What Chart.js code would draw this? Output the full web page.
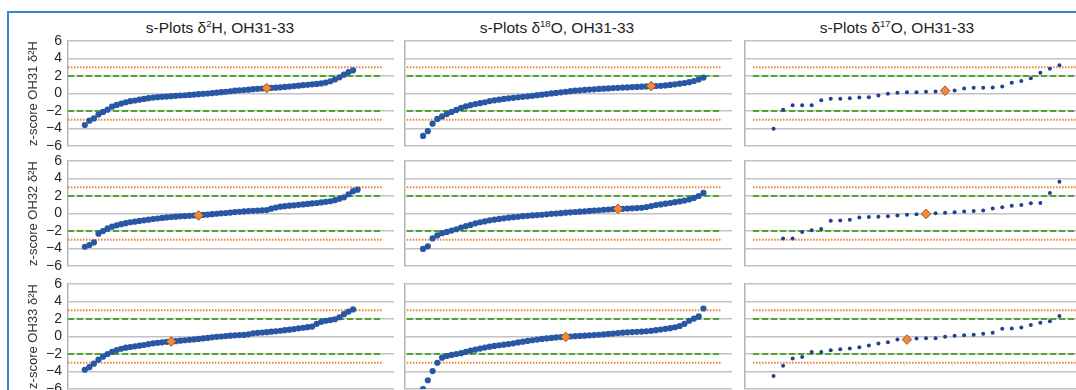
<!DOCTYPE html>
<html><head><meta charset="utf-8">
<script src="https://cdn.jsdelivr.net/npm/chart.js@4/dist/chart.umd.min.js"></script>
<style>
html,body{margin:0;padding:0;background:#fff;overflow:hidden;}
#wrap{width:1076px;height:390px;overflow:hidden;position:relative;font-family:"Liberation Sans",Arial,sans-serif;background:#fff;}
.frame{position:absolute;left:7px;top:11px;width:1100px;height:400px;border-top:2px solid #3a84d0;border-left:2px solid #3a84d0;}
.ttl{position:absolute;top:18px;font-size:15.5px;color:#222;white-space:nowrap;transform:translateX(-50%);line-height:19px;}
.ttl sup{font-size:9.5px;position:relative;top:-6px;vertical-align:baseline;line-height:0;}
canvas{position:absolute;}
</style></head><body>
<div id="wrap">
<div class="frame"></div>
<div class="ttl" style="left:220px">s-Plots δ<sup>2</sup>H, OH31-33</div>
<div class="ttl" style="left:557px">s-Plots δ<sup>18</sup>O, OH31-33</div>
<div class="ttl" style="left:897px">s-Plots δ<sup>17</sup>O, OH31-33</div>
</div>
<script>
// ---- data ----
const yTicks = [-6, -4, -2, 0, 2, 4, 6];
const warnLimits = [2, -2];
const actionLimits = [3, -3];
const rowLabels = ['z-score OH31 δ²H', 'z-score OH32 δ²H', 'z-score OH33 δ²H'];

const d2H_OH31 = [-3.6,-3.1,-2.85,-2.4,-2.1,-1.85,-1.5,-1.3,-1.15,-1.0,
  -0.88,-0.8,-0.7,-0.62,-0.53,-0.46,-0.42,-0.38,-0.35,-0.31,
  -0.27,-0.23,-0.2,-0.16,-0.12,-0.08,-0.04,0.0,0.05,0.1,
  0.15,0.2,0.26,0.32,0.36,0.4,0.44,0.49,0.53,0.57,
  0.61,0.64,0.67,0.71,0.75,0.8,0.85,0.9,0.95,1.0,
  1.05,1.09,1.15,1.25,1.4,1.6,1.85,2.15,2.45,2.65];
const d2H_OH32 = [-3.8,-3.6,-3.3,-2.3,-2.0,-1.7,-1.5,-1.35,-1.22,-1.1,
  -1.0,-0.93,-0.85,-0.78,-0.7,-0.63,-0.57,-0.5,-0.45,-0.4,
  -0.36,-0.32,-0.29,-0.26,-0.23,-0.21,-0.16,-0.12,-0.08,-0.03,
  0.02,0.06,0.11,0.16,0.2,0.24,0.28,0.31,0.34,0.36,
  0.4,0.55,0.68,0.78,0.84,0.89,0.94,0.99,1.04,1.1,
  1.15,1.2,1.27,1.33,1.4,1.52,1.68,1.85,2.2,2.55,2.72];
const d2H_OH33 = [-3.8,-3.5,-3.1,-2.65,-2.3,-2.0,-1.75,-1.55,-1.4,-1.28,
  -1.2,-1.12,-1.05,-0.97,-0.88,-0.78,-0.72,-0.66,-0.61,-0.57,
  -0.53,-0.48,-0.43,-0.38,-0.33,-0.28,-0.22,-0.16,-0.09,-0.04,
  0.0,0.05,0.1,0.13,0.16,0.18,0.25,0.36,0.42,0.46,
  0.5,0.55,0.6,0.66,0.72,0.78,0.85,0.93,1.0,1.07,
  1.13,1.45,1.68,1.8,1.88,1.97,2.2,2.55,2.85,3.1];

const d18O_OH31 = [-4.85,-4.3,-3.45,-2.9,-2.62,-2.35,-2.1,-1.88,-1.65,-1.48,
  -1.33,-1.2,-1.1,-1.0,-0.86,-0.78,-0.7,-0.62,-0.55,-0.49,
  -0.43,-0.38,-0.32,-0.26,-0.19,-0.13,-0.06,0.01,0.07,0.13,
  0.2,0.27,0.32,0.36,0.41,0.45,0.48,0.52,0.55,0.58,
  0.62,0.65,0.68,0.7,0.73,0.75,0.78,0.81,0.84,0.86,
  0.88,0.92,0.98,1.05,1.12,1.2,1.3,1.43,1.6,1.82];
const d18O_OH32 = [-4.05,-3.75,-2.85,-2.5,-2.25,-2.1,-1.95,-1.8,-1.6,-1.45,
  -1.3,-1.12,-1.0,-0.9,-0.78,-0.7,-0.62,-0.55,-0.48,-0.42,
  -0.37,-0.31,-0.27,-0.22,-0.18,-0.14,-0.09,-0.04,0.0,0.04,
  0.09,0.13,0.17,0.21,0.25,0.29,0.33,0.37,0.42,0.46,
  0.49,0.52,0.54,0.56,0.59,0.62,0.66,0.74,0.85,0.96,
  1.04,1.12,1.2,1.29,1.38,1.48,1.6,1.78,2.0,2.35];
const d18O_OH33 = [-6.0,-5.0,-3.95,-3.0,-2.42,-2.23,-2.1,-2.0,-1.9,-1.76,
  -1.62,-1.5,-1.38,-1.27,-1.16,-1.08,-1.0,-0.93,-0.86,-0.78,
  -0.68,-0.59,-0.51,-0.43,-0.35,-0.28,-0.22,-0.16,-0.11,-0.06,
  -0.04,0.0,0.04,0.07,0.1,0.13,0.16,0.2,0.24,0.29,
  0.34,0.39,0.44,0.48,0.51,0.53,0.56,0.6,0.65,0.72,
  0.8,0.88,0.95,1.06,1.2,1.45,1.8,2.05,2.3,3.2];

const d17O_OH31 = [-4.02,-1.87,-1.34,-1.34,-1.34,-0.76,-0.61,-0.61,-0.55,-0.46,
  -0.42,-0.23,-0.03,0.08,0.15,0.15,0.19,0.23,0.31,0.35,
  0.58,0.66,0.66,0.69,0.8,1.23,1.42,1.73,2.38,2.84,3.22];
const d17O_OH32 = [-2.85,-2.85,-2.1,-1.91,-1.76,-0.83,-0.8,-0.71,-0.45,-0.41,
  -0.38,-0.3,-0.23,-0.15,-0.08,-0.05,0.04,0.08,0.15,0.23,
  0.3,0.34,0.56,0.71,0.9,0.98,1.16,1.2,2.33,3.64];
const d17O_OH33 = [-4.5,-3.35,-2.5,-2.35,-1.77,-1.77,-1.58,-1.46,-1.38,-1.23,
  -1.04,-0.81,-0.65,-0.35,-0.35,-0.23,-0.19,-0.19,-0.04,0.08,
  0.15,0.19,0.31,0.42,0.88,0.92,1.04,1.31,1.58,1.73,2.35];

// first rank of each series
const d2H_firstRank = [1, 1, 1];
const d18O_firstRank = [1, 1, 1];
const d17O_firstRank = [3, 4, 3];
// own lab result (diamond): rank and z-score
const d2H_labRank = [41, 26, 20];
const d2H_labZ = [0.62, -0.22, -0.57];
const d18O_labRank = [49, 42, 31];
const d18O_labZ = [0.85, 0.53, -0.05];
const d17O_labRank = [21, 19, 17];
const d17O_labZ = [0.31, -0.05, -0.35];
// x-axis ranges and limit-line spans (rank units)
const d2H_xRange = [-2.7, 69];
const d2H_limitSpan = [-2.7, 66.6];
const d18O_xRange = [-2.8, 66];
const d18O_limitSpan = [-2.4, 63.9];
const d17O_xRange = [0, 36];
const d17O_limitSpan = [0.85, 34.9];

// ---- layout (positions only) ----
const COLS = [
  {left: 0, axisW: 68, plotW: 326, labels: true, r: 3.1},
  {left: 400, axisW: 5, plotW: 327, labels: false, r: 3.1},
  {left: 740, axisW: 5, plotW: 343, labels: false, r: 2.0}
];
const ROW_TOP = [41, 161, 284];
const PLOT_H = 105, PAD_T = 16, PAD_B = 16;

Chart.defaults.font.family = '"Liberation Sans", Arial, sans-serif';
const wrap = document.getElementById('wrap');

function panel(col, row, values, first, labRank, labZ, xRange, span) {
  const c = COLS[col];
  const cv = document.createElement('canvas');
  const w = c.axisW + c.plotW, h = PAD_T + PLOT_H + PAD_B;
  cv.width = w; cv.height = h;
  cv.style.width = w + 'px'; cv.style.height = h + 'px';
  cv.style.left = c.left + 'px';
  cv.style.top = (ROW_TOP[row] - PAD_T) + 'px';
  wrap.appendChild(cv);
  const pts = values.map((v, i) => ({x: first + i, y: v}));
  const seg = y => span.map(x => ({x: x, y: y}));
  const limitDs = [];
  warnLimits.forEach(y => limitDs.push({type: 'line', data: seg(y), borderColor: '#4fa52c', borderWidth: 2, borderDash: [6, 3], pointRadius: 0, order: 2}));
  actionLimits.forEach(y => limitDs.push({type: 'line', data: seg(y), borderColor: '#ea8236', borderWidth: 2, borderDash: [1.5, 1.5], pointRadius: 0, order: 3}));
  new Chart(cv, {
    type: 'scatter',
    data: {datasets: [
      {data: [{x: labRank, y: labZ}], pointStyle: 'rectRot', pointRadius: 4.8, backgroundColor: '#f08a38', borderColor: '#a4522a', borderWidth: 1, order: 0},
      {data: pts, pointRadius: c.r, backgroundColor: col === 2 ? '#23408f' : '#2857a4', borderWidth: 0, order: 1},
      ...limitDs
    ]},
    options: {
      responsive: false, animation: false, devicePixelRatio: 1,
      layout: {autoPadding: false, padding: {left: 0, right: 0, top: PAD_T, bottom: PAD_B}},
      plugins: {legend: {display: false}, tooltip: {enabled: false}},
      scales: {
        x: {type: 'linear', min: xRange[0], max: xRange[1], display: false},
        y: {
          min: -6, max: 6,
          afterBuildTicks: s => { s.ticks = yTicks.map(v => ({value: v})); },
          afterFit: s => { s.width = c.axisW; },
          grid: {color: '#c2c2c2', lineWidth: 1.6, drawTicks: false},
          border: {display: true, color: '#b3b3b3', width: 1.5},
          ticks: {display: c.labels, autoSkip: false, padding: 6, color: '#262626', font: {size: 14},
                  callback: v => String(v).replace('-', '\u2212')},
          title: {display: c.labels, text: rowLabels[row], color: '#333', font: {size: 13}, padding: {top: 26, bottom: 0}}
        }
      }
    }
  });
}

const d2H = [d2H_OH31, d2H_OH32, d2H_OH33];
const d18O = [d18O_OH31, d18O_OH32, d18O_OH33];
const d17O = [d17O_OH31, d17O_OH32, d17O_OH33];
for (let r = 0; r < 3; r++) {
  panel(0, r, d2H[r], d2H_firstRank[r], d2H_labRank[r], d2H_labZ[r], d2H_xRange, d2H_limitSpan);
  panel(1, r, d18O[r], d18O_firstRank[r], d18O_labRank[r], d18O_labZ[r], d18O_xRange, d18O_limitSpan);
  panel(2, r, d17O[r], d17O_firstRank[r], d17O_labRank[r], d17O_labZ[r], d17O_xRange, d17O_limitSpan);
}
</script>
</body></html>
